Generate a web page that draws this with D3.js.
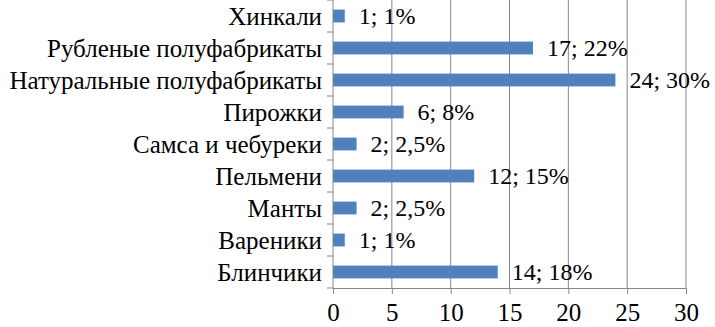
<!DOCTYPE html>
<html>
<head>
<meta charset="utf-8">
<script src="https://cdn.jsdelivr.net/npm/d3@7"></script>
<style>
  body { margin: 0; background: #fff; }
</style>
</head>
<body>
<div id="chart"></div>
<script>
// Categories top to bottom, counts and share labels
const categories = ['Хинкали', 'Рубленые полуфабрикаты', 'Натуральные полуфабрикаты', 'Пирожки',
  'Самса и чебуреки', 'Пельмени', 'Манты', 'Вареники', 'Блинчики'];
const counts = [1, 17, 24, 6, 2, 12, 2, 1, 14];
const shares = ['1%', '22%', '30%', '8%', '2,5%', '15%', '2,5%', '1%', '18%'];
const xTicks = [0, 5, 10, 15, 20, 25, 30];

const FONT = '"Liberation Serif", "Times New Roman", Times, Tinos, "DejaVu Serif", serif';

const width = 715, height = 327;
const margin = { top: 0, right: 29, bottom: 39, left: 333 };

const svg = d3.select('#chart').append('svg')
  .attr('width', width).attr('height', height)
  .attr('font-family', FONT);

const x = d3.scaleLinear().domain([0, 30]).range([margin.left, width - margin.right]);
const y = d3.scaleBand().domain(categories)
  .range([margin.top, height - margin.bottom]).paddingInner(0.6).paddingOuter(0.3);

const rows = categories.map((c, i) => ({ cat: c, v: counts[i], pct: shares[i] }));

// vertical gridlines
svg.append('g').selectAll('line').data(xTicks.slice(1)).join('line')
  .attr('x1', d => x(d)).attr('x2', d => x(d))
  .attr('y1', margin.top).attr('y2', height - margin.bottom)
  .attr('stroke', '#868686').attr('stroke-width', 1);

// bars
svg.append('g').selectAll('rect').data(rows).join('rect')
  .attr('x', x(0)).attr('y', d => y(d.cat))
  .attr('width', d => x(d.v) - x(0)).attr('height', y.bandwidth())
  .attr('fill', '#4f81bd');

// value labels
svg.append('g').selectAll('text').data(rows).join('text')
  .attr('x', d => x(d.v) + 14).attr('y', d => y(d.cat) + y.bandwidth() / 2)
  .attr('dy', '0.35em').attr('font-size', '24px').attr('font-family', FONT)
  .text(d => `${d.v}; ${d.pct}`);

// x axis
const xAxis = svg.append('g')
  .attr('transform', `translate(0,${height - margin.bottom})`)
  .call(d3.axisBottom(x).tickValues(xTicks).tickSize(6).tickPadding(9).tickSizeOuter(0))
  .attr('font-family', FONT);
xAxis.select('.domain').attr('stroke', '#868686');
xAxis.selectAll('line').attr('stroke', '#868686');
xAxis.selectAll('text').attr('font-size', '25px').attr('fill', '#000');

// y axis with ticks between categories
const boundaries = d3.range(categories.length + 1)
  .map(i => margin.top + i * ((height - margin.bottom - margin.top) / categories.length));
const yAxis = svg.append('g');
yAxis.append('line')
  .attr('x1', x(0)).attr('x2', x(0))
  .attr('y1', margin.top).attr('y2', height - margin.bottom)
  .attr('stroke', '#868686');
yAxis.selectAll('line.tk').data(boundaries).join('line').attr('class', 'tk')
  .attr('x1', x(0) - 6).attr('x2', x(0))
  .attr('y1', d => d).attr('y2', d => d)
  .attr('stroke', '#868686');
yAxis.selectAll('text').data(rows).join('text')
  .attr('x', x(0) - 11).attr('y', d => y(d.cat) + y.bandwidth() / 2)
  .attr('dy', '0.35em').attr('text-anchor', 'end').attr('font-size', '25px')
  .attr('font-family', FONT)
  .text(d => d.cat);
</script>
</body>
</html>
